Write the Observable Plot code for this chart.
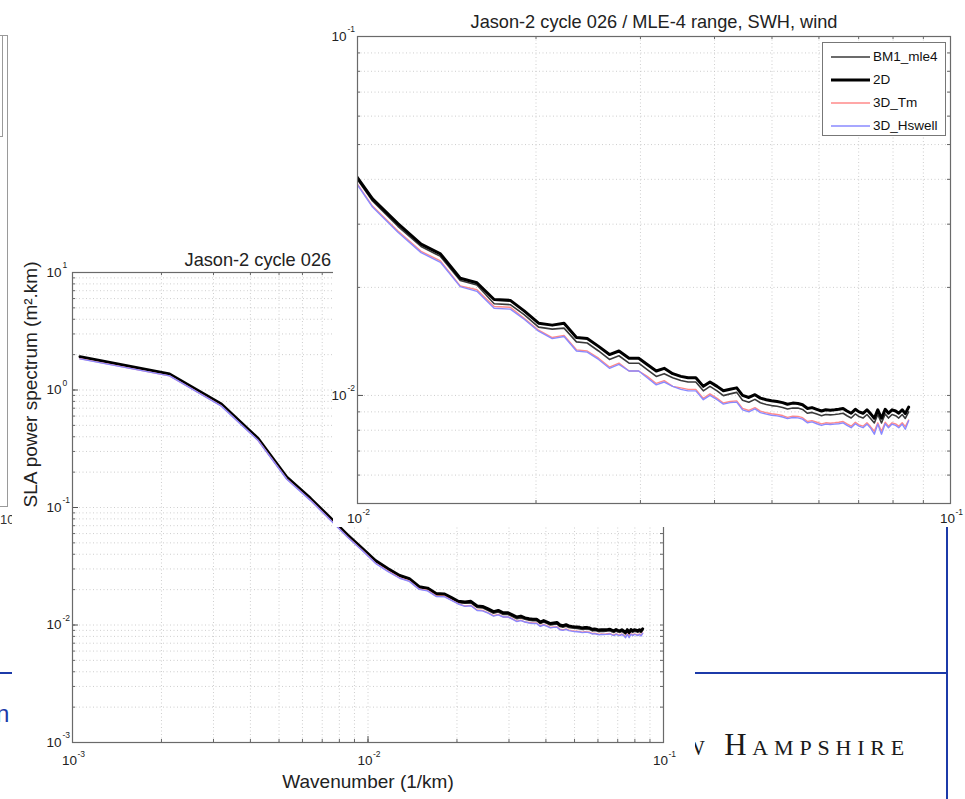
<!DOCTYPE html>
<html><head><meta charset="utf-8">
<script src="https://cdn.jsdelivr.net/npm/d3@7"></script>
<script src="https://cdn.jsdelivr.net/npm/@observablehq/plot@0.6"></script>
<style>
body{margin:0;background:#fff;}
#page{position:relative;width:965px;height:799px;overflow:hidden;background:#fff;font-family:"Liberation Sans",Arial,sans-serif;}
.leg-row{display:flex;align-items:center;height:23px;font-size:13.5px;color:#111;}
</style></head><body><div id="page"></div>
<script>
// ---------------- data ----------------
const wavenumber = [0.00106,0.00213,0.00319,0.00425,0.00531,0.00638,0.00744,0.00850,0.00956,0.0106,
0.0117,0.0128,0.0138,0.0149,0.0159,0.0170,0.0181,0.0191,0.0202,0.0213,
0.0223,0.0234,0.0244,0.0255,0.0266,0.0276,0.0287,0.0298,0.0308,0.0319,
0.0329,0.0340,0.0351,0.0361,0.0372,0.0383,0.0393,0.0404,0.0414,0.0425,
0.0436,0.0446,0.0457,0.0468,0.0478,0.0489,0.0499,0.0510,0.0521,0.0531,
0.0542,0.0553,0.0563,0.0574,0.0584,0.0595,0.0606,0.0616,0.0627,0.0638,
0.0648,0.0659,0.0669,0.0680,0.0691,0.0701,0.0712,0.0723,0.0733,0.0744,
0.0754,0.0765,0.0776,0.0786,0.0797,0.0808,0.0818,0.0829,0.0839,0.0850];

const spec2D = [1.92,1.37,0.759,0.386,0.181,0.120,0.0820,0.0587,0.0448,0.0353,
0.0301,0.0264,0.0248,0.0212,0.0206,0.0185,0.0184,0.0172,0.0159,0.0157,
0.0159,0.0145,0.0144,0.0137,0.0130,0.0133,0.0127,0.0127,0.0122,0.0117,
0.0119,0.0115,0.0113,0.0112,0.0112,0.0106,0.0109,0.0106,0.0103,0.0104,
0.0105,0.0100,0.00987,0.01005,0.00983,0.00973,0.00966,0.00962,0.00955,0.00945,
0.00952,0.00950,0.00942,0.00920,0.00925,0.00915,0.00905,0.00912,0.00910,0.00912,
0.00915,0.00920,0.00905,0.00892,0.00915,0.00900,0.00892,0.00912,0.00890,0.00864,
0.00912,0.00864,0.00915,0.00892,0.00912,0.00905,0.00892,0.00912,0.00890,0.00928];

const specBM1 = [1.90,1.36,0.751,0.382,0.179,0.119,0.0812,0.0581,0.0444,0.0348,
0.0296,0.0260,0.0244,0.0209,0.0203,0.0180,0.0179,0.0168,0.0155,0.0153,
0.0154,0.0141,0.0140,0.0133,0.0126,0.0129,0.0123,0.0123,0.0118,0.0113,
0.0115,0.0112,0.0110,0.0109,0.0109,0.0103,0.0106,0.0103,0.00999,0.0101,
0.0102,0.00970,0.00957,0.00975,0.00954,0.00944,0.00937,0.00933,0.00926,0.00917,
0.00923,0.00922,0.00914,0.00892,0.00897,0.00888,0.00878,0.00885,0.00883,0.00885,
0.00888,0.00892,0.00878,0.00865,0.00888,0.00873,0.00865,0.00885,0.00863,0.00838,
0.00885,0.00838,0.00888,0.00865,0.00885,0.00878,0.00865,0.00885,0.00863,0.00900];

const spec3DTm = [1.85,1.32,0.732,0.372,0.175,0.116,0.0791,0.0566,0.0432,0.0337,
0.0287,0.0252,0.0237,0.0202,0.0197,0.0177,0.0176,0.0164,0.0152,0.0145,
0.0147,0.0134,0.0133,0.0127,0.0120,0.0123,0.0117,0.0117,0.0113,0.0108,
0.0110,0.0106,0.0105,0.0104,0.0104,0.00981,0.0101,0.00981,0.00953,0.00962,
0.00966,0.00920,0.00908,0.00925,0.00904,0.00895,0.00889,0.00885,0.00879,0.00869,
0.00876,0.00874,0.00867,0.00846,0.00851,0.00842,0.00833,0.00839,0.00837,0.00839,
0.00842,0.00846,0.00833,0.00821,0.00842,0.00828,0.00821,0.00839,0.00819,0.00795,
0.00839,0.00795,0.00842,0.00821,0.00839,0.00833,0.00821,0.00839,0.00819,0.00854];

const spec3DHswell = [1.84,1.32,0.729,0.371,0.174,0.115,0.0787,0.0564,0.0430,0.0335,
0.0285,0.0250,0.0235,0.0201,0.0195,0.0175,0.0174,0.0163,0.0151,0.0144,
0.0146,0.0133,0.0132,0.0126,0.0119,0.0122,0.0117,0.0117,0.0112,0.0107,
0.0109,0.0106,0.0104,0.0103,0.0103,0.00973,0.0100,0.00973,0.00946,0.00955,
0.00958,0.00912,0.00900,0.00917,0.00896,0.00887,0.00881,0.00877,0.00871,0.00862,
0.00868,0.00866,0.00859,0.00839,0.00844,0.00834,0.00825,0.00832,0.00830,0.00832,
0.00834,0.00839,0.00825,0.00813,0.00834,0.00821,0.00813,0.00832,0.00812,0.00780,
0.00832,0.00780,0.00834,0.00813,0.00832,0.00825,0.00813,0.00832,0.00805,0.00850];

const seriesNames = ["BM1_mle4","2D","3D_Tm","3D_Hswell"];

// tick labels
const mainXDecades = [0.001, 0.01, 0.1];
const mainXExp = ["-3","-2","-1"];
const mainYDecades = [0.001, 0.01, 0.1, 1, 10];
const mainYExp = ["-3","-2","-1","0","1"];
const insetXDecades = [0.01, 0.1];
const insetXExp = ["-2","-1"];
const insetYDecades = [0.01, 0.1];
const insetYExp = ["-2","-1"];

const mainTitle = "Jason-2 cycle 026 / MLE-4 range, SWH, wind";
const insetTitle = "Jason-2 cycle 026 / MLE-4 range, SWH, wind";
const xLabel = "Wavenumber (1/km)";
const yLabel = "SLA power spectrum (m\u00B2.km)";

// ---------------- styles ----------------
const styles = {
  "BM1_mle4": {stroke: "#3a3a3a", strokeWidth: 1.6},
  "2D": {stroke: "#000000", strokeWidth: 3},
  "3D_Tm": {stroke: "#ff8a8a", strokeWidth: 1.4},
  "3D_Hswell": {stroke: "#8a8aff", strokeWidth: 1.4}
};
const seriesValues = [specBM1, spec2D, spec3DTm, spec3DHswell];
const seriesData = seriesNames.map((name, s) =>
  wavenumber.map((k, i) => ({k, v: seriesValues[s][i], series: name})));

const page = document.getElementById("page");
function abs(el, css) { el.style.position = "absolute"; Object.assign(el.style, css); page.appendChild(el); return el; }
function div(css, text) { const d = document.createElement("div"); if (text != null) d.textContent = text; return abs(d, css); }

// ---------------- background slide fragments ----------------
const BLUE = "#1c3aa9";
div({left: "-40px", top: "35px", width: "47px", height: "470px", border: "1px solid #9a9a9a", borderLeft: "none"});
div({left: "-40px", top: "35px", width: "41px", height: "100px", border: "1px solid #9a9a9a"});
div({left: "0px", top: "512px", fontSize: "13px", color: "#333"}, "10");
div({left: "0px", top: "672px", width: "948px", height: "2px", background: BLUE});
div({left: "946px", top: "527px", width: "2px", height: "272px", background: BLUE});
div({left: "-4px", top: "700px", fontSize: "24px", color: BLUE}, "n");
div({left: "400px", top: "727px", width: "510px", textAlign: "right", fontFamily: "'Liberation Serif','DejaVu Serif',serif", fontVariant: "small-caps", fontSize: "31px", letterSpacing: "5.8px", color: "#1a1a1a", whiteSpace: "nowrap"}, "New Hampshire");

// ---------------- chart builder ----------------
function chart({width, height, margins, xDomain, yDomain, xDec, xExp, yDec, yExp, title, titleDy, xlab, ylab, xlabDy, ylabDx, xLabDy, yLabDx}) {
  const [mt, mr, mb, ml] = margins;
  const fh = height - mt - mb, fw = width - ml - mr;
  const xt = d3.scaleLog().domain(xDomain).ticks(8);
  const yt = d3.scaleLog().domain(yDomain).ticks(8);
  const grid = {stroke: "#c2c2c2", strokeWidth: 0.8, strokeDasharray: "1,2.5"};
  const marks = [
    Plot.ruleX(xt, {x: d => d, ...grid}),
    Plot.ruleY(yt, {y: d => d, ...grid}),
    // inner ticks
    Plot.ruleX(xt, {x: d => d, insetTop: fh - 3, stroke: "#666"}),
    Plot.ruleX(xt, {x: d => d, insetBottom: fh - 3, stroke: "#666"}),
    Plot.ruleY(yt, {y: d => d, insetRight: fw - 3, stroke: "#666"}),
    Plot.ruleY(yt, {y: d => d, insetLeft: fw - 3, stroke: "#666"}),
    Plot.ruleX(xDec, {x: d => d, insetTop: fh - 6, stroke: "#555"}),
    Plot.ruleY(yDec, {y: d => d, insetRight: fw - 6, stroke: "#555"}),
    ...seriesData.map(data => Plot.line(data, {x: "k", y: "v", clip: true, ...styles[data[0].series], strokeLinejoin: "round"})),
    Plot.frame({stroke: "#6a6a6a", strokeWidth: 1.2}),
    // tick labels
    Plot.text(xDec, {x: d => d, frameAnchor: "bottom", text: () => "10", dy: xLabDy, dx: -3, fontSize: 13.5, fill: "#222"}),
    Plot.text(xDec, {x: d => d, frameAnchor: "bottom", text: (d, i) => xExp[i], dy: xLabDy - 8, dx: 5, textAnchor: "start", fontSize: 8.5, fill: "#222"}),
    Plot.text(yDec, {y: d => d, frameAnchor: "left", text: () => "10", dx: yLabDx, textAnchor: "end", fontSize: 13.5, fill: "#222"}),
    Plot.text(yDec, {y: d => d, frameAnchor: "left", text: (d, i) => yExp[i], dx: yLabDx + 1, dy: -7, textAnchor: "start", fontSize: 8.5, fill: "#222"}),
    Plot.text([title], {frameAnchor: "top", dy: titleDy, fontSize: 18.2, fill: "#222"})
  ];
  if (xlab) marks.push(Plot.text([xlab], {frameAnchor: "bottom", dy: xlabDy, fontSize: 19, fill: "#222"}));
  if (ylab) marks.push(Plot.text([ylab], {frameAnchor: "left", dx: ylabDx, rotate: -90, fontSize: 19, fill: "#222"}));
  return Plot.plot({
    width, height,
    marginTop: mt, marginRight: mr, marginBottom: mb, marginLeft: ml,
    style: {background: "#fff", fontFamily: "'Liberation Sans',Arial,sans-serif", overflow: "visible"},
    x: {type: "log", domain: xDomain, axis: null},
    y: {type: "log", domain: yDomain, axis: null},
    marks
  });
}

// ---------------- main (full range) chart ----------------
const mainSvg = chart({
  width: 683, height: 564, margins: [37, 32, 57, 60],
  xDomain: [0.001, 0.1], yDomain: [0.001, 10],
  xDec: mainXDecades, xExp: mainXExp, yDec: mainYDecades, yExp: mainYExp,
  title: mainTitle, titleDy: -19, xlab: xLabel, ylab: yLabel, xlabDy: 45, ylabDx: -42,
  xLabDy: 22, yLabDx: -11
});
abs(mainSvg, {left: "12px", top: "235px"});

// ---------------- inset (zoom) chart ----------------
const insetSvg = chart({
  width: 632, height: 527, margins: [36, 15, 24, 24],
  xDomain: [0.01, 0.1], yDomain: [0.005, 0.1],
  xDec: insetXDecades, xExp: insetXExp, yDec: insetYDecades, yExp: insetYExp,
  title: insetTitle, titleDy: -21, xLabDy: 19, yLabDx: -11
});
abs(insetSvg, {left: "333px", top: "0px"});

// ---------------- legend (inset) ----------------
const leg = div({left: "822px", top: "42px", width: "124px", height: "94px", border: "1px solid #777", background: "#fff", boxSizing: "border-box", paddingTop: "2px"});
seriesNames.forEach(name => {
  const row = document.createElement("div");
  row.className = "leg-row";
  const st = styles[name];
  row.innerHTML = `<svg width="50" height="10" style="flex:none"><line x1="8" x2="47" y1="5" y2="5" stroke="${st.stroke}" stroke-width="${st.strokeWidth}"/></svg><span>${name}</span>`;
  leg.appendChild(row);
});
</script></body></html>
